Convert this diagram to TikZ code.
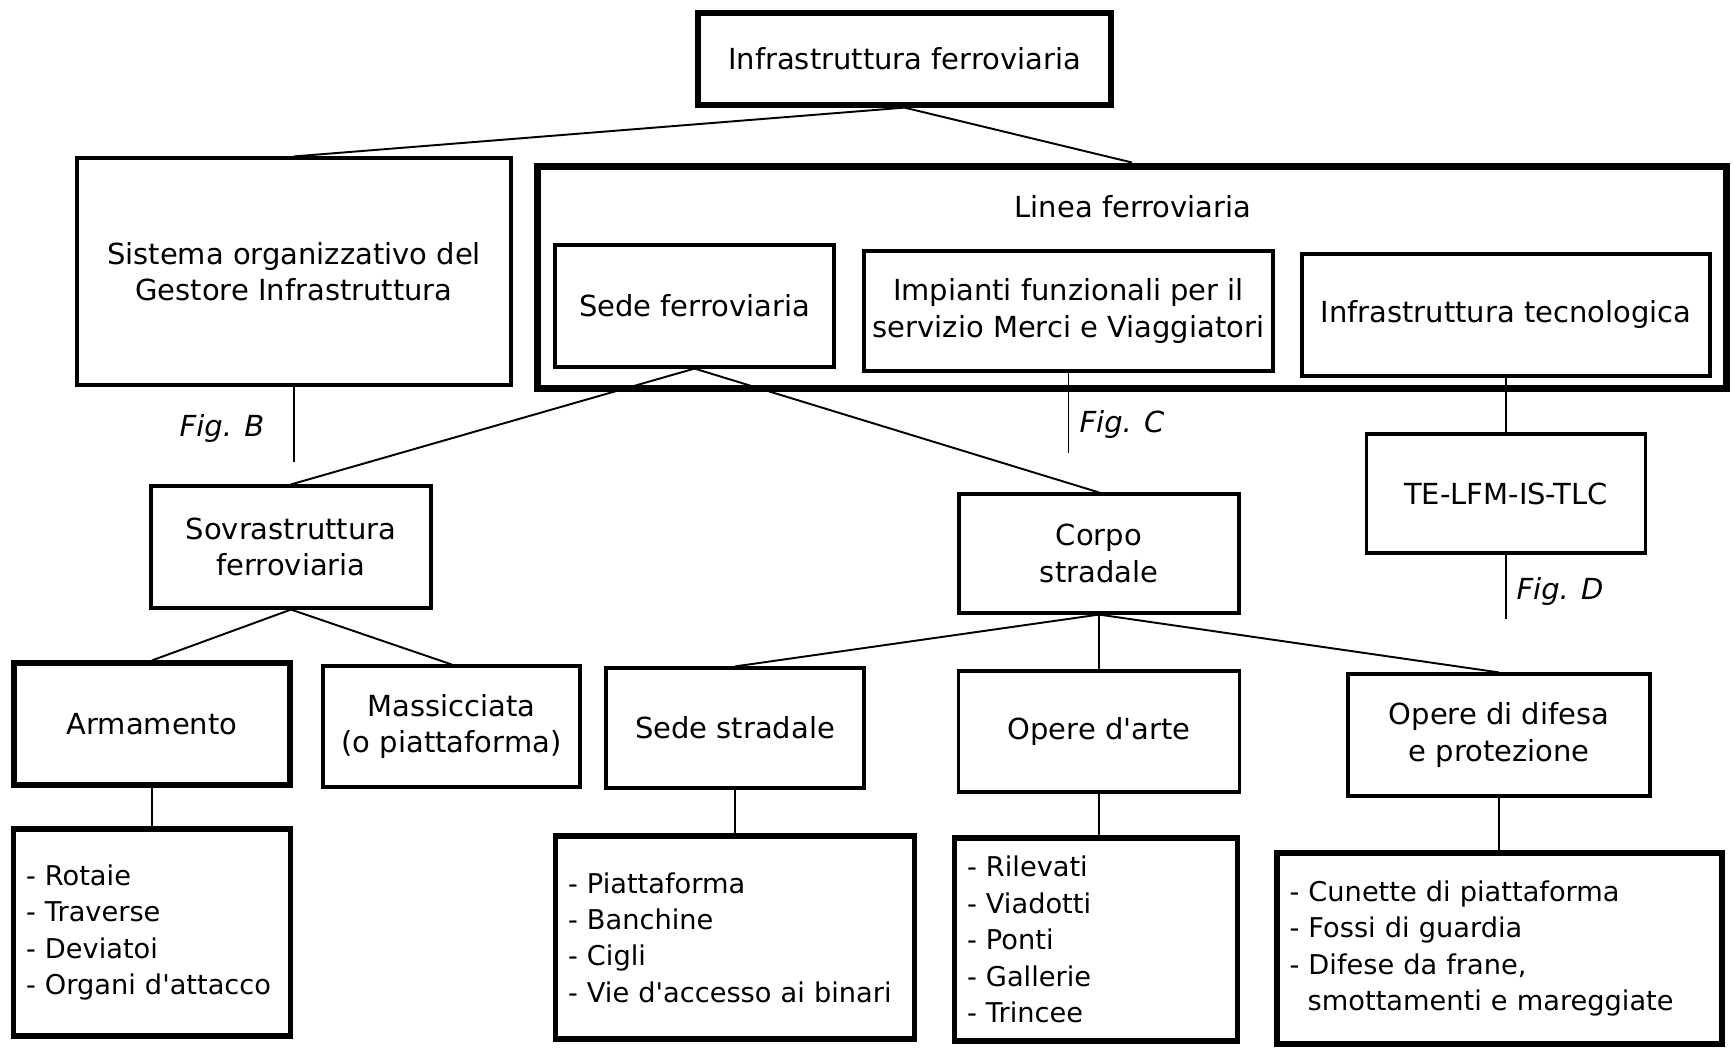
\documentclass[tikz,border=0pt]{standalone}
\usepackage{fontspec}
\setmainfont{DejaVu Sans}

\begin{document}
\begin{tikzpicture}[x=0.02cm, y=-0.02cm,
    label text/.style={font=\fontsize{16.5pt}{20.7pt}\selectfont},
    box/.style={draw, line width=1.8pt, align=center, inner sep=0pt, label text},
    thickbox/.style={box, line width=3pt},
    listbox/.style={thickbox, align=left, inner sep=0.25cm, font=\fontsize{15.5pt}{20.7pt}\selectfont},
    conn/.style={line width=1.1pt},
    figline/.style={line width=0.8pt},
    figlabel/.style={font=\fontsize{16.5pt}{20.7pt}\selectfont\itshape}]
  \useasboundingbox (0,0) rectangle (1733,1050);

  % livello 0
  \node[thickbox, minimum width=8.26cm, minimum height=1.84cm] (infra) at (904.5,59) {Infrastruttura ferroviaria};

  % livello 1
  \node[box, minimum width=8.68cm, minimum height=4.54cm] (sistema) at (294,271.5) {Sistema organizzativo del\\Gestore Infrastruttura};
  \node[box, line width=4pt, minimum width=23.8cm, minimum height=4.46cm] (linea) at (1132,277.5) {};
  \node[label text] (lineatit) at (1133,207) {Linea ferroviaria};
  \node[box, minimum width=5.58cm, minimum height=2.44cm] (sede) at (694.5,306) {Sede ferroviaria};
  \node[box, minimum width=8.18cm, minimum height=2.40cm] (impianti) at (1068.5,311) {Impianti funzionali per il\\servizio Merci e Viaggiatori};
  \node[box, minimum width=8.16cm, minimum height=2.44cm] (tecno) at (1506,315) {Infrastruttura tecnologica};

  % livello 2
  \node[box, minimum width=5.60cm, minimum height=2.44cm] (sovra) at (291,547) {Sovrastruttura\\ferroviaria};
  \node[box, minimum width=5.60cm, minimum height=2.38cm] (corpo) at (1099,553.5) {Corpo\\stradale};
  \node[box, minimum width=5.58cm, minimum height=2.38cm] (tlc) at (1506,493.5) {TE-LFM-IS-TLC};

  % livello 3
  \node[thickbox, minimum width=5.52cm, minimum height=2.44cm] (armamento) at (152,724) {Armamento};
  \node[box, minimum width=5.14cm, minimum height=2.42cm] (massicciata) at (451.5,726.5) {Massicciata\\(o piattaforma)};
  \node[box, minimum width=5.16cm, minimum height=2.40cm] (sedestr) at (735,728) {Sede stradale};
  \node[box, minimum width=5.62cm, minimum height=2.42cm] (operearte) at (1099,731.5) {Opere d\textquotesingle arte};
  \node[box, minimum width=6.04cm, minimum height=2.44cm] (difesa) at (1499,735) {Opere di difesa\\e protezione};

  % elenchi
  \node[listbox, text width=5.04cm, minimum height=4.14cm] (armlist) at (152,932.5) {- Rotaie\\- Traverse\\- Deviatoi\\- Organi d\textquotesingle attacco};
  \node[listbox, text width=6.68cm, minimum height=4.06cm] (sedelist) at (735,937.5) {- Piattaforma\\- Banchine\\- Cigli\\- Vie d\textquotesingle accesso ai binari};
  \node[listbox, text width=5.16cm, minimum height=4.06cm] (artelist) at (1096,939.5) {- Rilevati\\- Viadotti\\- Ponti\\- Gallerie\\- Trincee};
  \node[listbox, text width=8.40cm, minimum height=3.82cm] (difesalist) at (1499.5,948.5) {- Cunette di piattaforma\\- Fossi di guardia\\- Difese da frane,\\\ \ smottamenti e mareggiate};

  % collegamenti
  \draw[conn] (infra.south) -- (sistema.north);
  \draw[conn] (infra.south) -- (linea.north);
  \draw[conn] (sede.south) -- (sovra.north);
  \draw[conn] (sede.south) -- (corpo.north);
  \draw[conn] (tecno.south) -- (tlc.north);
  \draw[conn] (sovra.south) -- (armamento.north);
  \draw[conn] (sovra.south) -- (massicciata.north);
  \draw[conn] (corpo.south) -- (sedestr.north);
  \draw[conn] (corpo.south) -- (operearte.north);
  \draw[conn] (corpo.south) -- (difesa.north);
  \draw[conn] (armamento.south) -- (armlist.north);
  \draw[conn] (sedestr.south) -- (sedelist.north);
  \draw[conn] (operearte.south) -- (operearte.south |- artelist.north);
  \draw[conn] (difesa.south) -- (difesa.south |- difesalist.north);

  % rimandi alle figure
  \coordinate (figBend) at (294,462);
  \coordinate (figCend) at (1068.5,453);
  \coordinate (figDend) at (1506,619);
  \draw[figline] (sistema.south) -- (figBend);
  \draw[figline] (impianti.south) -- (figCend);
  \draw[figline] (tlc.south) -- (figDend);
  \node[figlabel] (figB) at (222,429) {Fig. B};
  \node[figlabel] (figC) at (1122,425) {Fig. C};
  \node[figlabel] (figD) at (1560,591) {Fig. D};
\end{tikzpicture}
\end{document}
